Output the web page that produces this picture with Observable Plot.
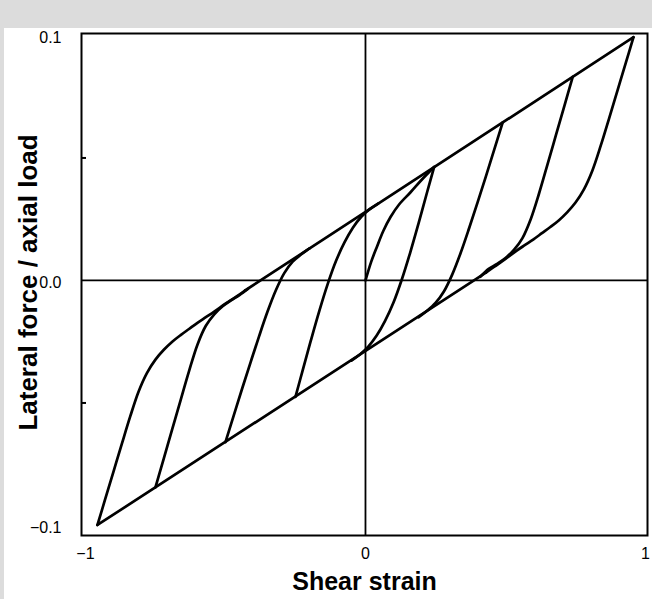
<!DOCTYPE html>
<html><head><meta charset="utf-8">
<script src="https://cdn.jsdelivr.net/npm/d3@7"></script>
<script src="https://cdn.jsdelivr.net/npm/@observablehq/plot@0.6"></script>
<style>
html,body{margin:0;padding:0;background:#dcdcdc;overflow:hidden;}
#paper{position:absolute;left:4px;top:28px;width:648px;height:571px;background:#fff;}
#wrap{position:absolute;left:0;top:0;width:652px;height:599px;}
#wrap svg g[aria-label$="tick label"], #wrap svg g[aria-label$="tick label"] text {font-size:16px;}
</style></head><body><div id="paper"></div><div id="wrap"></div>
<script>
const xTicks = [-1, 0, 1];
const xTickLabels = ["−1", "0", "1"];
const yTicks = [-0.1, 0, 0.1];
const yTickLabels = ["−0.1", "0.0", "0.1"];
const yMinorTicks = [-0.05, 0.05];

const upperEnvelope = [[-0.43,-0.0041],[0.957,0.0993]];
const lowerEnvelope = [[-0.957,-0.0998],[0.43,0.0032]];
const virginLoading = [[0,0],[0.02,0.0075],[0.04,0.0135],[0.064,0.0203],[0.09,0.026],[0.12,0.031],[0.161,0.036],[0.2,0.041],[0.245,0.0463]];
const loop1Unload = [[0.245,0.0463],[0.22,0.036],[0.19,0.0235],[0.16,0.0115],[0.13,0.0005],[0.10,-0.009],[0.07,-0.0165],[0.04,-0.0225],[0.01,-0.027],[-0.02,-0.0302],[-0.05,-0.0327]];
const loop1Reload = [[-0.25,-0.0475],[-0.225,-0.037],[-0.195,-0.0245],[-0.165,-0.0125],[-0.135,-0.0015],[-0.105,0.008],[-0.075,0.0155],[-0.045,0.0215],[-0.015,0.026],[0.015,0.0291],[0.045,0.0314]];
const loop2Unload = [[0.49,0.0645],[0.46,0.0535],[0.43,0.0425],[0.40,0.0318],[0.37,0.0213],[0.34,0.0113],[0.31,0.0025],[0.28,-0.0045],[0.25,-0.0092],[0.22,-0.0124],[0.19,-0.015]];
const loop2Reload = [[-0.5,-0.066],[-0.47,-0.055],[-0.44,-0.044],[-0.41,-0.0333],[-0.38,-0.0228],[-0.35,-0.0128],[-0.32,-0.004],[-0.29,0.003],[-0.26,0.0077],[-0.23,0.0106],[-0.2,0.0131]];
const loop3Unload = [[0.74,0.0831],[0.71,0.0712],[0.68,0.0593],[0.65,0.0474],[0.62,0.0356],[0.59,0.025],[0.56,0.0172],[0.53,0.0125],[0.50,0.0092],[0.47,0.0068],[0.44,0.0047],[0.41,0.0015]];
const loop3Reload = [[-0.75,-0.0845],[-0.72,-0.0726],[-0.69,-0.0607],[-0.66,-0.0488],[-0.63,-0.037],[-0.60,-0.0262],[-0.57,-0.0185],[-0.54,-0.0138],[-0.51,-0.0105],[-0.48,-0.0081],[-0.45,-0.006],[-0.42,-0.0035]];
const outerUnload = [[0.957,0.0993],[0.93,0.089],[0.90,0.0776],[0.87,0.0662],[0.84,0.055],[0.81,0.0448],[0.78,0.0372],[0.75,0.0318],[0.72,0.0278],[0.69,0.0245],[0.66,0.0218],[0.63,0.0193],[0.60,0.0168],[0.57,0.0145],[0.54,0.0122],[0.50,0.0088],[0.46,0.0056],[0.43,0.0032]];
const outerReload = [[-0.957,-0.0998],[-0.93,-0.0895],[-0.90,-0.0781],[-0.87,-0.0667],[-0.84,-0.0555],[-0.81,-0.0453],[-0.78,-0.0377],[-0.75,-0.0323],[-0.72,-0.0283],[-0.69,-0.025],[-0.66,-0.0223],[-0.63,-0.0198],[-0.60,-0.0173],[-0.57,-0.015],[-0.54,-0.0127],[-0.50,-0.0095],[-0.46,-0.0065],[-0.43,-0.0041]];

const branches = [
  ["upperEnvelope", upperEnvelope], ["lowerEnvelope", lowerEnvelope],
  ["virginLoading", virginLoading],
  ["loop1Unload", loop1Unload], ["loop1Reload", loop1Reload],
  ["loop2Unload", loop2Unload], ["loop2Reload", loop2Reload],
  ["loop3Unload", loop3Unload], ["loop3Reload", loop3Reload],
  ["outerUnload", outerUnload], ["outerReload", outerReload]
];
const table = branches.flatMap(([name, pts]) => pts.map(([x, y]) => ({branch: name, x, y})));

const chart = Plot.plot({
  width: 652, height: 599,
  marginLeft: 81, marginRight: 5, marginTop: 33, marginBottom: 64,
  x: {domain: [-1.014, 1.007], axis: null},
  y: {domain: [-0.1041, 0.1008], axis: null},
  style: {fontFamily: "'Liberation Sans', Arial, Helvetica, sans-serif", fontSize: "16px", color: "black", background: "transparent"},
  marks: [
    Plot.ruleX([0], {stroke: "black", strokeWidth: 1.8}),
    Plot.ruleY([0], {stroke: "black", strokeWidth: 1.8}),
    Plot.line(table, {x: "x", y: "y", z: "branch", stroke: "black", strokeWidth: 2.7, curve: "catmull-rom", strokeLinejoin: "round", strokeLinecap: "round"}),
    Plot.frame({stroke: "black", strokeWidth: 2}),
    Plot.axisY(yTicks, {tickSize: 0, tickPadding: 20, dy: 2, fontSize: 16, label: null, tickFormat: d => yTickLabels[yTicks.indexOf(d)]}),
    Plot.axisY(yMinorTicks, {tickSize: 5, dx: 5, strokeWidth: 2, label: null, tickFormat: () => ""}),
    Plot.axisX(xTicks, {tickSize: 0, tickPadding: 12, fontSize: 16, label: null, tickFormat: d => xTickLabels[xTicks.indexOf(d)]}),
    Plot.text(["Shear strain"], {frameAnchor: "bottom", textAnchor: "middle", lineAnchor: "middle", dy: 46, fontSize: 25, fontWeight: "bold"}),
    Plot.text(["Lateral force / axial load"], {frameAnchor: "left", textAnchor: "middle", lineAnchor: "middle", dx: -53, dy: -2, rotate: -90, fontSize: 26, fontWeight: "bold"})
  ]
});
document.getElementById("wrap").appendChild(chart);
</script></body></html>
